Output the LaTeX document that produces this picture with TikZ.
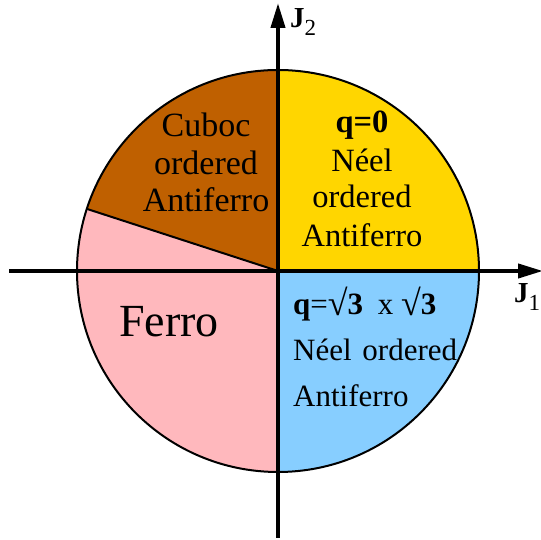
\documentclass[tikz,border=0pt]{standalone}
\usepackage{fontspec}
\setmainfont{Liberation Serif}
\usetikzlibrary{arrows.meta}
\definecolor{yellowq}{RGB}{255,214,0}
\definecolor{brownq}{RGB}{191,96,0}
\definecolor{pinkq}{RGB}{255,184,189}
\definecolor{blueq}{RGB}{135,206,255}
\newcommand{\rootsign}{{\fontsize{36}{36}\selectfont\raisebox{-1pt}{√}}}
\tikzset{
  axisline/.style={line width=4pt,-{Triangle[length=25pt,width=14pt]}},
  rim/.style={line width=2pt},
  lbl/.style={inner sep=0pt,anchor=base},
  lblw/.style={inner sep=0pt,anchor=base west},
}
\begin{document}
\begin{tikzpicture}[x=1pt,y=1pt]
\useasboundingbox (0,0) rectangle (541,540);
\def\R{201}
\coordinate (c) at (278,269);
% quadrant fills
\fill[yellowq] (c) -- ++(0:\R) arc[start angle=0,end angle=90,radius=\R] -- cycle;
\fill[brownq] (c) -- ++(90:\R) arc[start angle=90,end angle=162,radius=\R] -- cycle;
\fill[pinkq] (c) -- ++(162:\R) arc[start angle=162,end angle=270,radius=\R] -- cycle;
\fill[blueq] (c) -- ++(270:\R) arc[start angle=270,end angle=360,radius=\R] -- cycle;
% outline and divider
\draw[rim] (c) circle[radius=\R];
\draw[rim] (c) -- ++(162:\R) coordinate (d);
% axes
\coordinate (xl) at (9,269);
\coordinate (xr) at (543,269);
\coordinate (yb) at (278,2);
\coordinate (yt) at (278,537);
\draw[axisline] (xl) -- (xr);
\draw[axisline] (yb) -- (yt);
% axis labels
\node[lblw] (j2) at (290,512) {\fontsize{29}{29}\selectfont\bfseries J\raisebox{-8pt}{\fontsize{23}{23}\mdseries\selectfont 2}};
\node[lblw] (j1) at (514,237) {\fontsize{29}{29}\selectfont\bfseries J\raisebox{-8pt}{\fontsize{23}{23}\mdseries\selectfont 1}};
% brown region
\node[lbl] (cu1) at (206,403) {\fontsize{34}{34}\selectfont Cuboc};
\node[lbl] (cu2) at (206,365) {\fontsize{34}{34}\selectfont ordered};
\node[lbl] (cu3) at (206,328) {\fontsize{34}{34}\selectfont Antiferro};
% yellow region
\node[lbl] (ye1) at (362,407) {\fontsize{32.5}{32.5}\selectfont\bfseries q=0};
\node[lbl] (ye2) at (362,368) {\fontsize{32.5}{32.5}\selectfont Néel};
\node[lbl] (ye3) at (362,332) {\fontsize{32.5}{32.5}\selectfont ordered};
\node[lbl] (ye4) at (362,293) {\fontsize{32.5}{32.5}\selectfont Antiferro};
% blue region
\node[lblw] (bl1) at (293,225) {\fontsize{31}{31}\selectfont{\bfseries q}=\rootsign{\bfseries 3}\hspace{7pt} x \rootsign{\bfseries 3}};
\node[lblw] (bl2) at (293,179) {\fontsize{31}{31}\selectfont Néel\hspace{3pt} ordered};
\node[lblw] (bl3) at (293,133) {\fontsize{31}{31}\selectfont Antiferro};
% pink region
\node[lblw] (fe) at (119,203) {\fontsize{46}{46}\selectfont Ferro};
\end{tikzpicture}
\end{document}
